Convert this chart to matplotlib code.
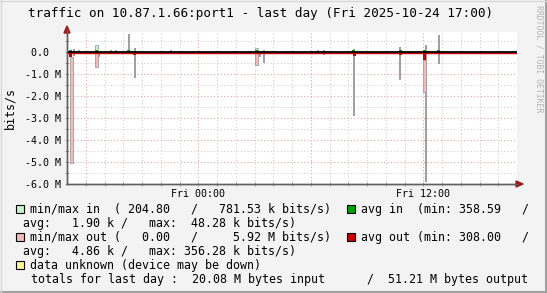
import numpy as np
import matplotlib
matplotlib.use('agg')
import matplotlib.pyplot as plt
from matplotlib.patches import Polygon
from matplotlib.lines import Line2D

# x values: hours since Thu 17:00, y values: M bits/s (in > 0, out < 0)
gray_x = [0.36, 0.64, 1.68, 2.36, 2.63, 3.31, 3.60, 5.56, 6.72, 8.85, 9.71, 10.29,
          10.50, 10.72, 11.71, 12.03, 13.39, 13.71, 15.33, 17.76, 18.24, 18.77,
          19.12, 19.25, 19.84, 23.87]
gray_top = [0.15, 0.08, 0.0, 0.08, 0.08, 0.82, 0.17, 0.07, 0.06, 0.06, 0.06, 0.0,
            0.10, 0.06, 0.06, 0.06, 0.07, 0.10, 0.15, 0.20, 0.06, 0.06,
            0.32, 0.06, 0.77, 0.06]
gray_bot = [-0.18, 0.0, -0.25, 0.0, 0.0, 0.0, -1.17, -0.10, 0.0, 0.0, 0.0, -0.23,
            -0.49, 0.0, 0.0, 0.0, -0.10, -0.15, -2.90, -1.30, -0.08, 0.0,
            -5.90, 0.0, -0.53, 0.0]

outrange_x = [0.23, 1.56, 10.10, 19.07]
outrange_top = [-0.24, 0.0, 0.0, -0.36]
outrange_bot = [-5.05, -0.71, -0.58, -1.82]

inrange_x = [1.56, 10.10]
inrange_top = [0.30, 0.18]
inrange_bot = [0.08, 0.0]

avg_in_x = [0.20, 1.57, 3.28, 10.08, 15.30, 17.76, 19.07, 19.81]
avg_in = [0.10, 0.10, 0.10, 0.10, 0.10, 0.10, 0.10, 0.10]

avg_out_x = [0.20, 1.57, 3.60, 15.33, 17.76, 19.07, 19.84]
avg_out = [-0.24, -0.10, -0.15, -0.20, -0.15, -0.36, -0.10]

ytick_vals = [0, -1, -2, -3, -4, -5, -6]
ytick_labels = ['0.0  ', '-1.0 M', '-2.0 M', '-3.0 M', '-4.0 M', '-5.0 M', '-6.0 M']
xtick_vals = [7, 19]
xtick_labels = ['Fri 00:00', 'Fri 12:00']

W, H = 547, 293
def fx(x): return x / W
def fy(y): return 1 - y / H

plt.rcParams['font.family'] = 'DejaVu Sans Mono'
fig = plt.figure(figsize=(W / 100, H / 100), dpi=100, facecolor='#f3f3f3')
ax = fig.add_axes([fx(67), fy(184), 450 / W, 152 / H])
ax.set_facecolor('white')
ax.set_xlim(0, 24)
ax.set_ylim(-6.0, 0.9)

# grid
for h in range(1, 24):
    major = (h - 1) % 6 == 0
    ax.axvline(h, color='#e0a8a8' if major else '#cfcfcf', lw=0.8,
               ls=(0, (1, 2)), zorder=0)
for v in np.arange(-5.5, 0.9, 0.5):
    major = abs(v - round(v)) < 1e-6
    ax.axhline(v, color='#e0a8a8' if major else '#cfcfcf', lw=0.8,
               ls=(0, (1, 2)), zorder=0)

px = 24 / 450.0
gb = np.array(gray_bot)
gt = np.array(gray_top)
ax.bar(gray_x, gt - gb, bottom=gb, width=2 * px, color='#a0a0a0', lw=0, zorder=2)
ob = np.array(outrange_bot)
ot = np.array(outrange_top)
ax.bar(outrange_x, ot - ob, bottom=ob, width=3 * px, color='#f6b8b8',
       edgecolor='#a0a0a0', lw=0.6, zorder=3)
ib = np.array(inrange_bot)
it = np.array(inrange_top)
ax.bar(inrange_x, it - ib, bottom=ib, width=3 * px, color='#c8f5c8',
       edgecolor='#a0a0a0', lw=0.6, zorder=3)
ax.bar(avg_in_x, avg_in, width=3 * px, color='#00a000', lw=0, zorder=4)
ax.bar(avg_out_x, avg_out, width=3 * px, color='#c80000', lw=0, zorder=4)

# zero line
ax.axhline(-0.06, color='#d00000', lw=1.0, zorder=5)
ax.axhline(0.0, color='black', lw=1.3, zorder=6)

ax.set_yticks(ytick_vals)
ax.set_yticklabels(ytick_labels)
ax.set_yticks(np.arange(-5.5, 0.9, 1.0), minor=True)
ax.set_xticks(xtick_vals)
ax.set_xticklabels(xtick_labels)
ax.set_xticks(range(1, 24), minor=True)
ax.tick_params(which='both', direction='inout', length=3, width=0.6,
               color='#909090', labelsize=7.2, pad=3, labelcolor='black')
ax.tick_params(axis='x', pad=2)
for s in ['top', 'right']:
    ax.spines[s].set_visible(False)
for s in ['left', 'bottom']:
    ax.spines[s].set_color('#606060')
    ax.spines[s].set_linewidth(1.0)
ax.set_ylabel('bits/s', fontsize=8.4, labelpad=6)

# axis arrows
fig.add_artist(Line2D([fx(67), fx(67)], [fy(184), fy(30)], color='#606060', lw=1.0))
fig.add_artist(Line2D([fx(67), fx(517)], [fy(184), fy(184)], color='#606060', lw=1.0))
fig.add_artist(Polygon([(fx(64), fy(33)), (fx(70), fy(33)), (fx(67), fy(26))],
                       closed=True, color='#9b1c1c'))
fig.add_artist(Polygon([(fx(516), fy(181)), (fx(516), fy(187)), (fx(523), fy(184))],
                       closed=True, color='#9b1c1c'))

fig.text(fx(28), fy(13), 'traffic on 10.87.1.66:port1 - last day (Fri 2025-10-24 17:00)',
         fontsize=9.1, va='center', ha='left')
fig.text(fx(539), fy(5), 'RRDTOOL / TOBI OETIKER', fontsize=5.9, color='#b4b4b4',
         rotation=-90, va='top', ha='center')

# legend
rows = [209.3, 223.3, 237.3, 251.0, 265.3, 279.0]
lfs = 8.4
def box(x, y, c):
    fig.add_artist(Polygon([(fx(x), fy(y - 4)), (fx(x + 8), fy(y - 4)),
                            (fx(x + 8), fy(y + 4)), (fx(x), fy(y + 4))],
                           closed=True, facecolor=c, edgecolor='black', lw=0.8))
box(16, rows[0], '#c8f5c8')
fig.text(fx(30.5), fy(rows[0]), 'min/max in  ( 204.80   /   781.53 k bits/s)', fontsize=lfs, va='center')
box(347, rows[0], '#00a000')
fig.text(fx(361), fy(rows[0]), 'avg in  (min: 358.59   /', fontsize=lfs, va='center')
fig.text(fx(23), fy(rows[1]), 'avg:   1.90 k /   max:  48.28 k bits/s)', fontsize=lfs, va='center')
box(16, rows[2], '#f6b8b8')
fig.text(fx(30.5), fy(rows[2]), 'min/max out (   0.00   /     5.92 M bits/s)', fontsize=lfs, va='center')
box(347, rows[2], '#c80000')
fig.text(fx(361), fy(rows[2]), 'avg out (min: 308.00   /', fontsize=lfs, va='center')
fig.text(fx(23), fy(rows[3]), 'avg:   4.86 k /   max: 356.28 k bits/s)', fontsize=lfs, va='center')
box(16, rows[4], '#fff59a')
fig.text(fx(30.5), fy(rows[4]), 'data unknown (device may be down)', fontsize=lfs, va='center')
fig.text(fx(31), fy(rows[5]), 'totals for last day :  20.08 M bytes input      /  51.21 M bytes output',
         fontsize=lfs, va='center')

# frame
fig.add_artist(Line2D([0, 1], [fy(291.5), fy(291.5)], color='#a0a0a0', lw=2.2))
fig.add_artist(Line2D([fx(545.5), fx(545.5)], [0, 1], color='#a0a0a0', lw=2.2))
fig.add_artist(Line2D([0, 1], [fy(0.5), fy(0.5)], color='#d8d8d8', lw=1))
fig.add_artist(Line2D([fx(0.5), fx(0.5)], [0, 1], color='#d8d8d8', lw=1))

fig.savefig('out.png', dpi=100, facecolor=fig.get_facecolor())
